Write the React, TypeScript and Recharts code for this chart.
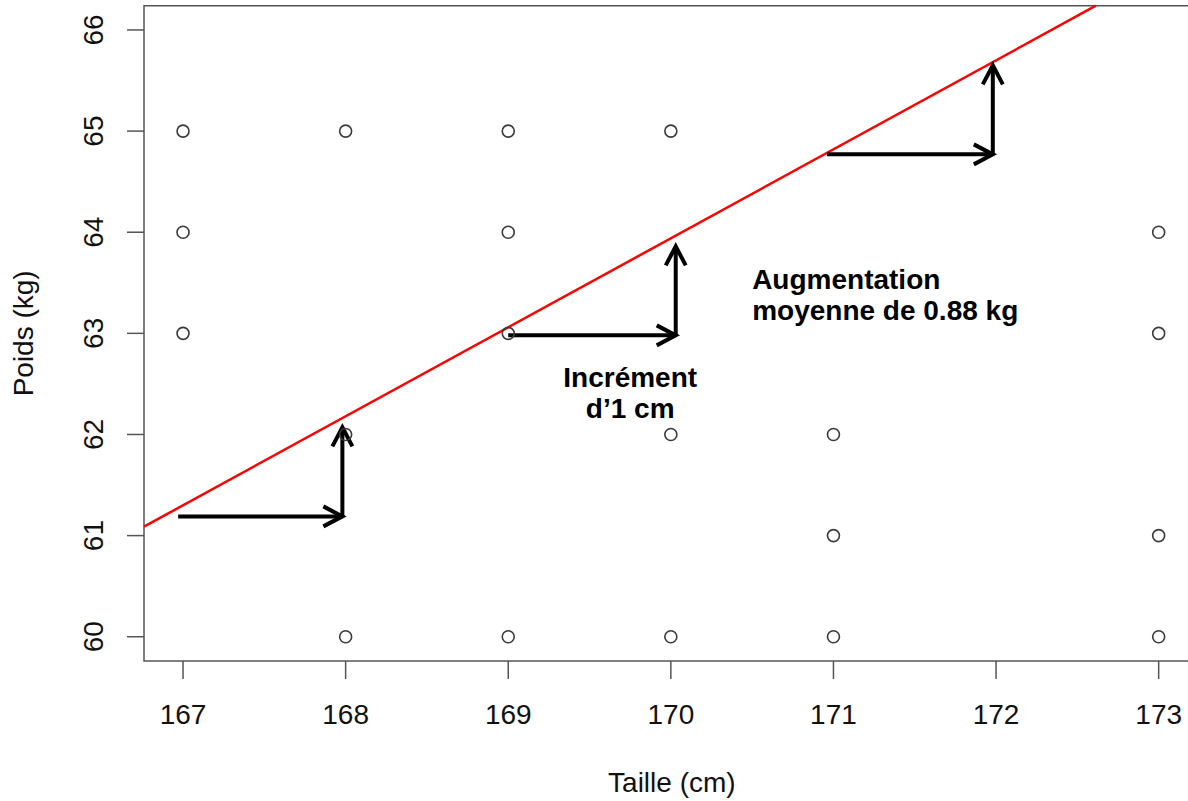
import React from 'react';
import {
  ScatterChart,
  Scatter,
  XAxis,
  YAxis,
  ReferenceLine,
  ReferenceArea,
  ReferenceDot,
} from 'recharts';

// Observations: height (cm) and weight (kg)
const heights = [167, 167, 167, 168, 168, 168, 169, 169, 169, 169, 170, 170, 170, 171, 171, 171, 173, 173, 173, 173];
const weights = [65, 64, 63, 65, 62, 60, 65, 64, 63, 60, 65, 62, 60, 62, 61, 60, 64, 63, 61, 60];

const xTicks = [167, 168, 169, 170, 171, 172, 173];
const yTicks = [60, 61, 62, 63, 64, 65, 66];

const X_DOMAIN: [number, number] = [166.76, 173.24];
const Y_DOMAIN: [number, number] = [59.76, 66.24];

// Fitted regression line: weight at 167 cm and slope (kg per cm)
const FIT_AT_167 = 61.3;
const FIT_SLOPE = 0.88;

// Step arrows: horizontal "+1 cm" then vertical "+0.88 kg"
const stepStartX = [166.97, 169.0, 170.96];
const stepEndX = [167.98, 170.03, 171.98];
const stepBaseY = [61.19, 62.98, 64.77];
const stepRise = [0.88, 0.88, 0.88];

const scatterData = heights.map((h, i) => ({ x: h, y: weights[i] }));

const fitY = (x: number) => FIT_AT_167 + FIT_SLOPE * (x - 167);
const fitStart = { x: X_DOMAIN[0], y: fitY(X_DOMAIN[0]) };
const fitEnd = { x: 167 + (Y_DOMAIN[1] - FIT_AT_167) / FIT_SLOPE, y: Y_DOMAIN[1] };

const FONT = '"Liberation Sans", Arial, Helvetica, sans-serif';
const AXIS_COLOR = '#555';
const TEXT_COLOR = '#111';

const ArrowShape = (props: any) => {
  const { x1, y1, x2, y2 } = props;
  const dx = x2 - x1;
  const dy = y2 - y1;
  const len = Math.sqrt(dx * dx + dy * dy) || 1;
  const ux = dx / len;
  const uy = dy / len;
  const back = 19;
  const half = 10;
  const ax = x2 - ux * back;
  const ay = y2 - uy * back;
  const px = -uy * half;
  const py = ux * half;
  return (
    <g>
      <line x1={x1} y1={y1} x2={x2} y2={y2} stroke="#000" strokeWidth={4} />
      <polyline
        points={`${ax + px},${ay + py} ${x2},${y2} ${ax - px},${ay - py}`}
        fill="none"
        stroke="#000"
        strokeWidth={4}
        strokeLinejoin="miter"
      />
    </g>
  );
};

const PointShape = (props: any) => (
  <circle cx={props.cx} cy={props.cy} r={6} fill="none" stroke="#3a3a3a" strokeWidth={1.6} />
);

const XTick = (props: any) => {
  const { x, y, payload } = props;
  return (
    <text x={x} y={y + 45} textAnchor="middle" fontFamily={FONT} fontSize={28} fill={TEXT_COLOR}>
      {payload.value}
    </text>
  );
};

const YTick = (props: any) => {
  const { x, y, payload } = props;
  return (
    <text
      transform={`translate(${x - 24},${y}) rotate(-90)`}
      textAnchor="middle"
      fontFamily={FONT}
      fontSize={28}
      fill={TEXT_COLOR}
    >
      {payload.value}
    </text>
  );
};

const XLabel = (props: any) => {
  const vb = props.viewBox;
  return (
    <text x={vb.x + vb.width / 2 + 1} y={vb.y + 131} textAnchor="middle" fontFamily={FONT} fontSize={28} fill={TEXT_COLOR}>
      Taille (cm)
    </text>
  );
};

const YLabel = (props: any) => {
  const vb = props.viewBox;
  return (
    <text
      transform={`translate(33,${vb.y + vb.height / 2}) rotate(-90)`}
      textAnchor="middle"
      fontFamily={FONT}
      fontSize={28}
      fill={TEXT_COLOR}
    >
      Poids (kg)
    </text>
  );
};

const makeNote = (lines: string[], anchor: 'start' | 'middle') => (props: any) => (
  <text
    x={props.cx}
    y={props.cy}
    textAnchor={anchor}
    fontFamily={FONT}
    fontWeight="bold"
    fontSize={28}
    fill="#000"
  >
    {lines.map((t, i) => (
      <tspan key={i} x={props.cx} dy={i === 0 ? 0 : 31}>
        {t}
      </tspan>
    ))}
  </text>
);

const IncrementNote = makeNote(['Incrément', 'd’1 cm'], 'middle');
const RiseNote = makeNote(['Augmentation', 'moyenne de 0.88 kg'], 'start');

export default function App() {
  return (
    <div
      style={{
        position: 'absolute',
        left: 0,
        top: 0,
        width: 1188,
        height: 801,
        overflow: 'hidden',
        background: '#fff',
      }}
    >
      <ScatterChart width={1210} height={801} margin={{ top: 5.7, right: 12.3, bottom: 0, left: 0 }}>
        <XAxis
          type="number"
          dataKey="x"
          domain={X_DOMAIN}
          ticks={xTicks}
          allowDataOverflow
          height={140}
          tickSize={18}
          tickMargin={0}
          tick={<XTick />}
          axisLine={false}
          tickLine={{ stroke: AXIS_COLOR, strokeWidth: 1.5 }}
          label={<XLabel />}
        />
        <YAxis
          type="number"
          dataKey="y"
          domain={Y_DOMAIN}
          ticks={yTicks}
          allowDataOverflow
          width={144}
          tickSize={17}
          tickMargin={0}
          tick={<YTick />}
          axisLine={false}
          tickLine={{ stroke: AXIS_COLOR, strokeWidth: 1.5 }}
          label={<YLabel />}
        />
        <ReferenceArea
          x1={X_DOMAIN[0]}
          x2={X_DOMAIN[1]}
          y1={Y_DOMAIN[0]}
          y2={Y_DOMAIN[1]}
          fill="none"
          fillOpacity={0}
          stroke={AXIS_COLOR}
          strokeWidth={1.5}
          ifOverflow="visible"
        />
        <Scatter data={scatterData} shape={<PointShape />} isAnimationActive={false} />
        <ReferenceLine
          segment={[fitStart, fitEnd]}
          stroke="#ff0000"
          strokeWidth={2.5}
          ifOverflow="visible"
        />
        {stepStartX.map((sx, i) => (
          <ReferenceLine
            key={`h${i}`}
            segment={[
              { x: sx, y: stepBaseY[i] },
              { x: stepEndX[i], y: stepBaseY[i] },
            ]}
            shape={ArrowShape}
            ifOverflow="visible"
          />
        ))}
        {stepStartX.map((_, i) => (
          <ReferenceLine
            key={`v${i}`}
            segment={[
              { x: stepEndX[i], y: stepBaseY[i] },
              { x: stepEndX[i], y: stepBaseY[i] + stepRise[i] },
            ]}
            shape={ArrowShape}
            ifOverflow="visible"
          />
        ))}
        <ReferenceDot x={169.75} y={62.47} r={0} shape={IncrementNote} ifOverflow="visible" />
        <ReferenceDot x={170.5} y={63.44} r={0} shape={RiseNote} ifOverflow="visible" />
      </ScatterChart>
    </div>
  );
}
